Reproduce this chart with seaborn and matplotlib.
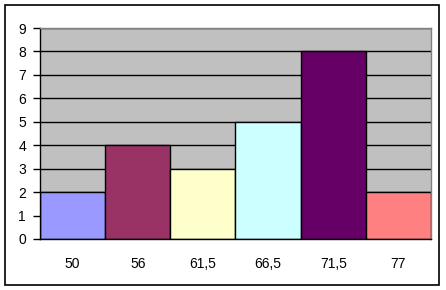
import matplotlib
matplotlib.use("Agg")
import matplotlib.pyplot as plt
import seaborn as sns
import numpy as np
from matplotlib.patches import Rectangle

categories = ["50", "56", "61,5", "66,5", "71,5", "77"]
values = [2, 4, 3, 5, 8, 2]
colors = ["#9999FF", "#993366", "#FFFFCC", "#CCFFFF", "#660066", "#FF8080"]
yticks = list(range(0, 10))

sns.set_style("white")
plt.rcParams["font.family"] = ["Liberation Sans", "DejaVu Sans"]
plt.rcParams["text.color"] = "black"
plt.rcParams["xtick.color"] = "black"
plt.rcParams["ytick.color"] = "black"

W, H = 446, 290
fig = plt.figure(figsize=(W / 100, H / 100), dpi=100)
fig.patch.set_facecolor("white")
fig.add_artist(Rectangle((5 / W, 1 - 285 / H), (439 - 5) / W, (285 - 5) / H,
                         transform=fig.transFigure, fill=False, edgecolor="black", linewidth=1.2))

ax = fig.add_axes([40 / W, 1 - 239 / H, (431 - 40) / W, (239 - 28) / H])
ax.set_facecolor("#C0C0C0")
ax.set_axisbelow(True)
ax.yaxis.grid(True, color="black", linewidth=1)
ax.xaxis.grid(False)

sns.barplot(x=categories, y=values, hue=categories, palette=colors, legend=False,
            width=1.0, edgecolor="black", linewidth=1, saturation=1, ax=ax)

ax.set_ylim(0, 9)
ax.set_xlim(-0.5, len(categories) - 0.5)
ax.set_yticks(yticks)
ax.set_yticklabels([str(v) for v in yticks])
ax.set_xlabel("")
ax.set_ylabel("")

ax.set_xticks(np.arange(-0.5, len(categories)), minor=True)
ax.tick_params(axis="x", which="major", length=0, pad=13, labelsize=10, labelcolor="black")
ax.tick_params(axis="x", which="minor", length=5, width=1, color="black", direction="out")
ax.tick_params(axis="y", length=5, width=1, color="black", direction="out", pad=5,
               labelsize=10, labelcolor="black")
ax.tick_params(left=True, bottom=True)

for s in ["left", "bottom"]:
    ax.spines[s].set_color("black")
    ax.spines[s].set_linewidth(1)
for s in ["top", "right"]:
    ax.spines[s].set_color("#808080")
    ax.spines[s].set_linewidth(1)

fig.savefig("out.png", dpi=100)
